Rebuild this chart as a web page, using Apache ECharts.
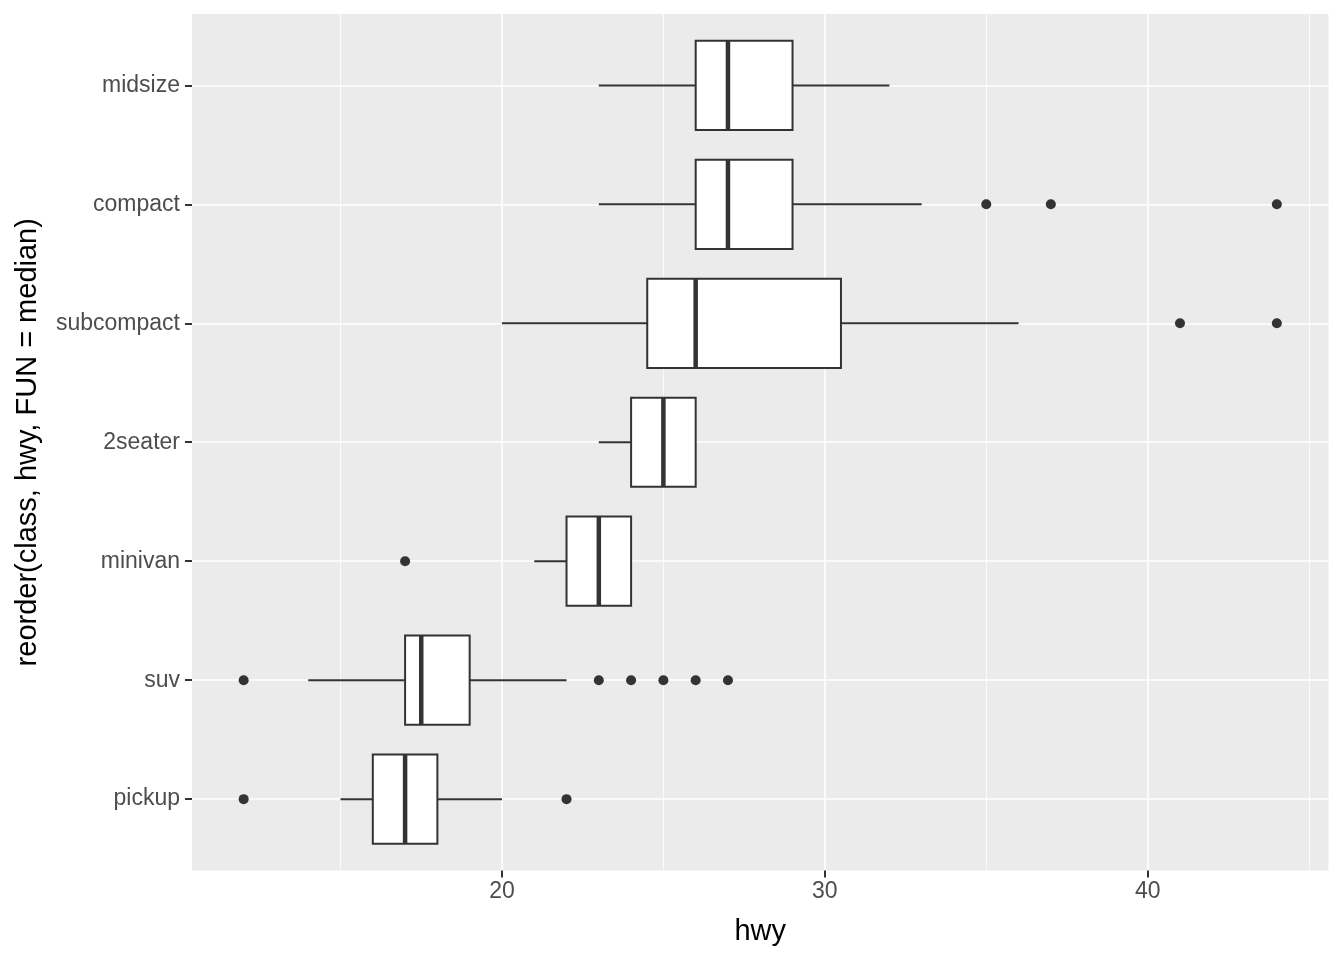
<!DOCTYPE html>
<html>
<head>
<meta charset="utf-8">
<script src="https://cdn.jsdelivr.net/npm/echarts@6/dist/echarts.min.js"></script>
<style>
html,body{margin:0;padding:0;background:#fff;}
#chart{width:1344px;height:960px;}
</style>
</head>
<body>
<div id="chart"></div>
<script>
// categories, bottom to top
const classes = ['pickup','suv','minivan','2seater','subcompact','compact','midsize'];
const whiskerLow  = [15, 14, 21, 23, 20,   23, 23];
const q1          = [16, 17, 22, 24, 24.5, 26, 26];
const median      = [17, 17.5, 23, 25, 26, 27, 27];
const q3          = [18, 19, 24, 26, 30.5, 29, 29];
const whiskerHigh = [20, 22, 24, 26, 36,   33, 32];
const outliers = [
  [12, 22],
  [12, 23, 24, 25, 26, 27],
  [17],
  [],
  [41, 44],
  [35, 37, 44],
  []
];
const xMajorTicks = [20, 30, 40];
const xMinorTicks = [15, 25, 35, 45];
const xRange = [10.4, 45.6];
const yRange = [0.4, 7.6];
const yTicks = [1, 2, 3, 4, 5, 6, 7];

const FONT = "'Liberation Sans', Arial, sans-serif";
const DARK = '#333333';

const boxData = classes.map((c, i) => [i + 1, whiskerLow[i], q1[i], median[i], q3[i], whiskerHigh[i]]);
const outlierData = [];
outliers.forEach((arr, i) => arr.forEach(v => outlierData.push([v, i + 1])));

function renderBox(params, api) {
  const pos = api.value(0);
  const lo = api.coord([api.value(1), pos]);
  const b1 = api.coord([api.value(2), pos]);
  const md = api.coord([api.value(3), pos]);
  const b3 = api.coord([api.value(4), pos]);
  const hi = api.coord([api.value(5), pos]);
  const h = api.size([0, 0.75])[1];
  const top = md[1] - h / 2;
  return {
    type: 'group',
    children: [
      {type: 'line', shape: {x1: lo[0], y1: lo[1], x2: b1[0], y2: b1[1]}, style: {stroke: DARK, lineWidth: 2}},
      {type: 'line', shape: {x1: b3[0], y1: b3[1], x2: hi[0], y2: hi[1]}, style: {stroke: DARK, lineWidth: 2}},
      {type: 'rect', shape: {x: b1[0], y: top, width: b3[0] - b1[0], height: h}, style: {fill: '#ffffff', stroke: DARK, lineWidth: 2}},
      {type: 'line', shape: {x1: md[0], y1: top, x2: md[0], y2: top + h}, style: {stroke: DARK, lineWidth: 4.5}}
    ]
  };
}

const chart = echarts.init(document.getElementById('chart'));
chart.setOption({
  animation: false,
  backgroundColor: '#ffffff',
  grid: {left: 192, right: 15.5, top: 14, bottom: 89.5, show: true, backgroundColor: '#EBEBEB', borderWidth: 0},
  xAxis: [
    {
      type: 'value', min: xRange[0], max: xRange[1],
      name: 'hwy', nameLocation: 'middle', nameGap: 47,
      nameTextStyle: {fontFamily: FONT, fontSize: 29, color: '#000'},
      axisLine: {show: false},
      axisTick: {show: true, length: 7, lineStyle: {color: DARK, width: 2}, customValues: xMajorTicks},
      axisLabel: {show: true, margin: 10, fontFamily: FONT, fontSize: 23, color: '#4D4D4D', customValues: xMajorTicks},
      splitLine: {show: true, lineStyle: {color: '#ffffff', width: 1.6}}
    },
    {
      type: 'value', min: xRange[0], max: xRange[1], position: 'bottom',
      axisLine: {show: false},
      axisTick: {show: false, customValues: xMinorTicks},
      axisLabel: {show: false, customValues: xMinorTicks},
      splitLine: {show: true, lineStyle: {color: '#ffffff', width: 0.8}}
    }
  ],
  yAxis: {
    type: 'value', min: yRange[0], max: yRange[1],
    name: 'reorder(class, hwy, FUN = median)', nameLocation: 'middle', nameGap: 150, nameRotate: 90,
    nameTextStyle: {fontFamily: FONT, fontSize: 29, color: '#000'},
    axisLine: {show: false},
    axisTick: {show: true, length: 7, lineStyle: {color: DARK, width: 2}, customValues: yTicks},
    axisLabel: {show: true, margin: 12, fontFamily: FONT, fontSize: 23, color: '#4D4D4D', customValues: yTicks,
      formatter: v => classes[Math.round(v) - 1] || ''},
    splitLine: {show: true, lineStyle: {color: '#ffffff', width: 1.6}}
  },
  series: [
    {
      type: 'custom', xAxisIndex: 0, renderItem: renderBox, data: boxData,
      encode: {x: [1, 2, 3, 4, 5], y: 0}, clip: false, z: 2
    },
    {
      type: 'scatter', xAxisIndex: 0, data: outlierData, symbol: 'circle', symbolSize: 10,
      itemStyle: {color: DARK, opacity: 1}, z: 3
    }
  ]
});
</script>
</body>
</html>
